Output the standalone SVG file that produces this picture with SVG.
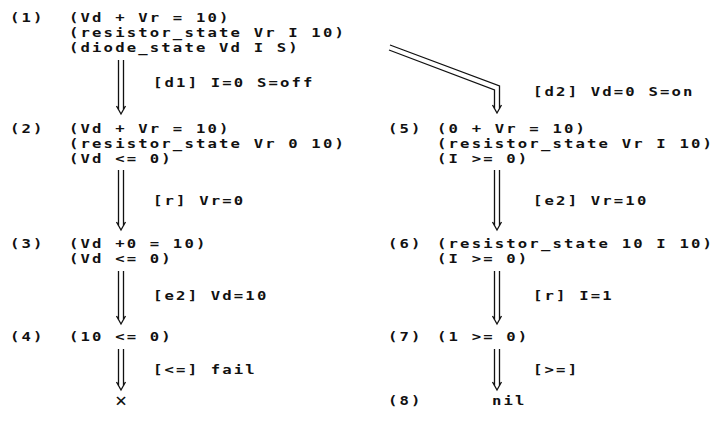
<svg xmlns="http://www.w3.org/2000/svg" width="717" height="421" viewBox="0 0 717 421">
  <style>
    text { font-family: "DejaVu Sans Mono", "Liberation Mono", monospace; font-size: 13px; font-weight: bold; letter-spacing: 1.8px; fill: #111; }
    .conn path { fill: none; stroke: #111; stroke-width: 1.3; }
    .x { font-size: 20px; letter-spacing: 0; font-weight: normal; }
  </style>
  <rect width="717" height="421" fill="#fff"/>

  <!-- connectors: double-line arrows with open heads -->
  <g id="connectors" class="conn">
    <!-- (1) -> (2) -->
    <path d="M118.5 60V110M123.5 60V110M116.5 106L121 114L125.5 106"/>
    <!-- (1) -> (5), slanted then down -->
    <path d="M390 45L499.5 86V109M389 50L494.5 90V109M492.5 105L497 113L501.5 105"/>
    <!-- (2) -> (3) -->
    <path d="M118.5 170V226M123.5 170V226M116.5 222L121 230L125.5 222"/>
    <!-- (3) -> (4) -->
    <path d="M118.5 271V320M123.5 271V320M116.5 316L121 324L125.5 316"/>
    <!-- (4) -> fail -->
    <path d="M118.5 349V386M123.5 349V386M116.5 382L121 390L125.5 382"/>
    <!-- (5) -> (6) -->
    <path d="M494.5 170V226M499.5 170V226M492.5 222L497 230L501.5 222"/>
    <!-- (6) -> (7) -->
    <path d="M494.5 271V320M499.5 271V320M492.5 316L497 324L501.5 316"/>
    <!-- (7) -> (8) -->
    <path d="M494.5 349V386M499.5 349V386M492.5 382L497 390L501.5 382"/>
  </g>

  <!-- text is set in a widened monospace: x values are in the scaled space (x / 1.2) -->
  <g id="labels" transform="scale(1.2 1)">
    <text x="127.5" y="87">[d1] I=0 S=off</text>
    <text x="444.2" y="96">[d2] Vd=0 S=on</text>
    <text x="127.5" y="205">[r]  Vr=0</text>
    <text x="444.2" y="205">[e2] Vr=10</text>
    <text x="127.5" y="300">[e2]  Vd=10</text>
    <text x="444.2" y="300">[r] I=1</text>
    <text x="127.5" y="374">[&lt;=] fail</text>
    <text x="444.2" y="374">[&gt;=]</text>
  </g>

  <g id="node1" transform="scale(1.2 1)">
    <text x="8.3" y="22">(1)</text>
    <text x="57.5" y="22">(Vd + Vr = 10)</text>
    <text x="57.5" y="37">(resistor_state Vr I 10)</text>
    <text x="57.5" y="52">(diode_state Vd I S)</text>
  </g>
  <g id="node2" transform="scale(1.2 1)">
    <text x="8.3" y="133">(2)</text>
    <text x="57.5" y="133">(Vd + Vr = 10)</text>
    <text x="57.5" y="148">(resistor_state Vr 0 10)</text>
    <text x="57.5" y="163">(Vd &lt;= 0)</text>
  </g>
  <g id="node3" transform="scale(1.2 1)">
    <text x="8.3" y="248">(3)</text>
    <text x="57.5" y="248">(Vd +0 = 10)</text>
    <text x="57.5" y="263">(Vd &lt;= 0)</text>
  </g>
  <g id="node4" transform="scale(1.2 1)">
    <text x="8.3" y="341">(4)</text>
    <text x="57.5" y="341">(10 &lt;= 0)</text>
  </g>
  <g id="fail">
    <text class="x" x="121" y="407" text-anchor="middle">×</text>
  </g>
  <g id="node5" transform="scale(1.2 1)">
    <text x="323.3" y="133">(5)</text>
    <text x="364.2" y="133">(0 + Vr = 10)</text>
    <text x="364.2" y="148">(resistor_state Vr I 10)</text>
    <text x="364.2" y="163">(I &gt;= 0)</text>
  </g>
  <g id="node6" transform="scale(1.2 1)">
    <text x="323.3" y="248">(6)</text>
    <text x="364.2" y="248">(resistor_state 10 I 10)</text>
    <text x="364.2" y="263">(I &gt;= 0)</text>
  </g>
  <g id="node7" transform="scale(1.2 1)">
    <text x="323.3" y="341">(7)</text>
    <text x="364.2" y="341">(1 &gt;= 0)</text>
  </g>
  <g id="node8" transform="scale(1.2 1)">
    <text x="323.3" y="405">(8)</text>
    <text x="410" y="405">nil</text>
  </g>
</svg>
